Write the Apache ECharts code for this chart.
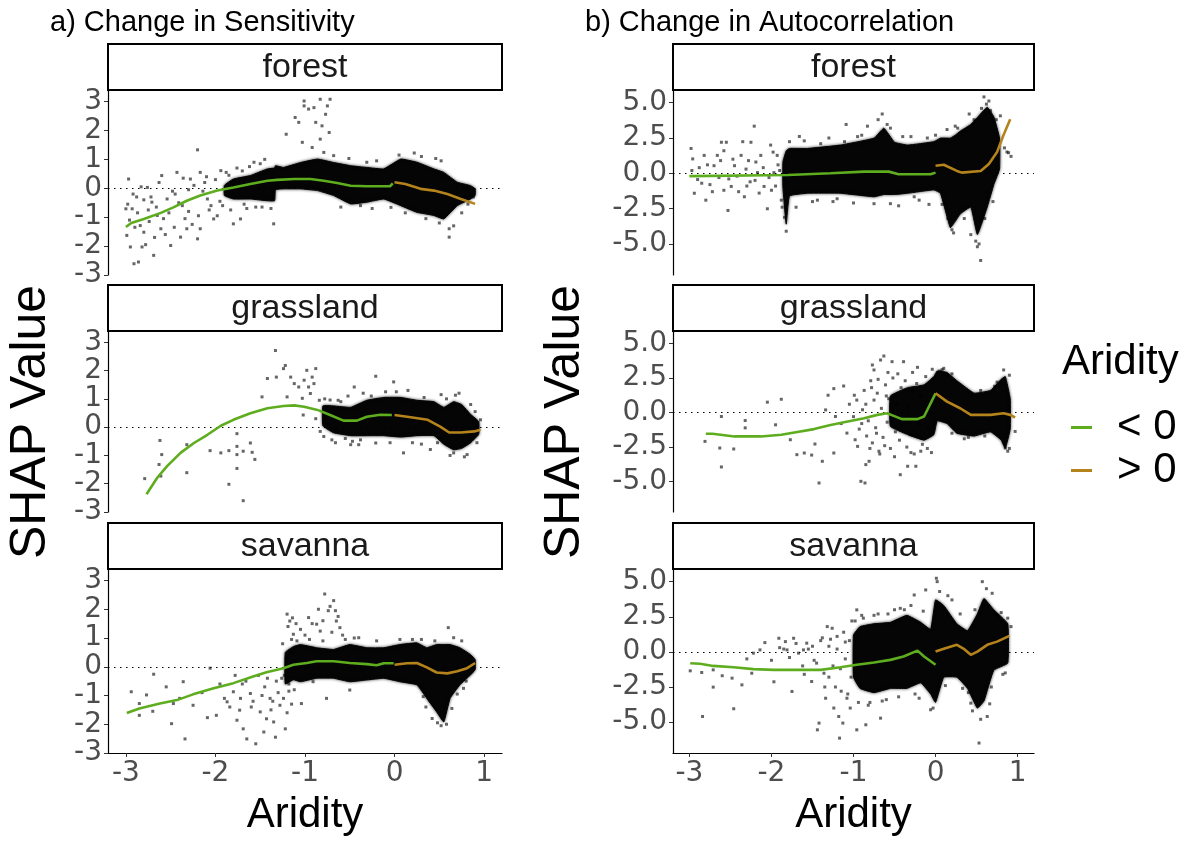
<!DOCTYPE html>
<html>
<head>
<meta charset="utf-8">
<title>SHAP value vs aridity</title>
<script src="https://cdn.jsdelivr.net/npm/echarts@6/dist/echarts.min.js"></script>
<style>
  html, body { margin: 0; padding: 0; background: #ffffff; }
  #chart { width: 1195px; height: 841px; }
</style>
</head>
<body>
<div id="chart"></div>
<script>
// ---------- data ----------
const biomes = ['forest', 'grassland', 'savanna'];
const panelTitles = ['a) Change in Sensitivity', 'b) Change in Autocorrelation'];
const aridityTicks = [-3, -2, -1, 0, 1];
const sensTicks = [-3, -2, -1, 0, 1, 2, 3];
const autoTicks = [-5, -2.5, 0, 2.5, 5];
const legendLabels = ['< 0', '> 0'];

// smoothed SHAP curves, split at aridity 0
const sensForestNeg = [[-3.0,-1.34],[-2.94,-1.2],[-2.80,-1.06],[-2.61,-0.85],[-2.47,-0.66],[-2.32,-0.43],[-2.17,-0.25],[-1.98,-0.08],[-1.80,0.03],[-1.61,0.15],[-1.42,0.26],[-1.31,0.29],[-1.12,0.32],[-0.94,0.32],[-0.79,0.26],[-0.64,0.18],[-0.49,0.09],[-0.31,0.07],[-0.05,0.07],[-0.02,0.17]];
const sensForestPos = [[0.0,0.21],[0.12,0.15],[0.29,-0.02],[0.44,-0.08],[0.59,-0.20],[0.74,-0.37],[0.90,-0.54]];
const sensGrassNeg = [[-2.77,-2.37],[-2.65,-1.79],[-2.54,-1.38],[-2.39,-0.91],[-2.24,-0.56],[-2.09,-0.27],[-1.94,0.05],[-1.80,0.26],[-1.61,0.49],[-1.42,0.67],[-1.24,0.75],[-1.12,0.77],[-1.01,0.72],[-0.86,0.61],[-0.72,0.43],[-0.57,0.23],[-0.42,0.23],[-0.31,0.37],[-0.16,0.44],[-0.03,0.43]];
const sensGrassPos = [[0.0,0.43],[0.18,0.35],[0.37,0.26],[0.51,0.02],[0.61,-0.19],[0.74,-0.19],[0.89,-0.15],[0.96,-0.09]];
const sensSavNeg = [[-2.99,-1.61],[-2.85,-1.45],[-2.62,-1.28],[-2.43,-1.16],[-2.25,-0.96],[-2.02,-0.75],[-1.80,-0.57],[-1.58,-0.34],[-1.43,-0.19],[-1.24,-0.05],[-1.13,0.07],[-0.98,0.13],[-0.87,0.19],[-0.68,0.19],[-0.50,0.13],[-0.31,0.09],[-0.20,0.05],[-0.12,0.12],[-0.01,0.12]];
const sensSavPos = [[0.0,0.07],[0.14,0.12],[0.25,0.13],[0.36,-0.02],[0.47,-0.20],[0.59,-0.23],[0.70,-0.16],[0.81,-0.05],[0.90,0.13]];
const autoForestNeg = [[-3.0,-0.2],[-1.80,-0.12],[-1.28,0.0],[-0.87,0.12],[-0.57,0.12],[-0.45,-0.07],[-0.06,-0.07],[0.0,0.05]];
const autoForestPos = [[0.0,0.54],[0.10,0.61],[0.26,0.17],[0.32,0.05],[0.55,0.17],[0.65,0.66],[0.75,1.51],[0.83,2.73],[0.91,3.83]];
const autoGrassNeg = [[-2.80,-1.54],[-2.72,-1.54],[-2.45,-1.73],[-2.13,-1.73],[-1.88,-1.61],[-1.72,-1.44],[-1.48,-1.20],[-1.28,-0.91],[-1.07,-0.65],[-0.87,-0.41],[-0.71,-0.17],[-0.59,-0.05],[-0.51,-0.24],[-0.41,-0.48],[-0.22,-0.48],[-0.14,-0.29],[0.0,1.39]];
const autoGrassPos = [[0.0,1.39],[0.14,0.79],[0.30,0.31],[0.43,-0.17],[0.67,-0.17],[0.83,-0.05],[0.91,-0.17],[0.97,-0.36]];
const autoSavNeg = [[-2.99,-0.81],[-2.87,-0.85],[-2.71,-1.0],[-2.46,-1.09],[-2.22,-1.23],[-1.97,-1.28],[-1.65,-1.28],[-1.40,-1.28],[-1.16,-1.09],[-0.96,-0.92],[-0.75,-0.76],[-0.55,-0.57],[-0.39,-0.33],[-0.22,0.09],[-0.14,-0.33],[0.0,-0.92]];
const autoSavPos = [[0.0,0.02],[0.12,0.26],[0.26,0.50],[0.35,0.19],[0.43,-0.21],[0.51,0.02],[0.63,0.50],[0.75,0.73],[0.90,1.14]];

// dense core of each point cloud: [aridity, lower SHAP, upper SHAP]
const sensForestCore = [[-1.90,-0.25,0.10],[-1.80,-0.37,0.32],[-1.61,-0.37,0.44],[-1.42,-0.43,0.67],[-1.34,-0.43,0.70],[-1.33,-0.05,0.78],[-1.24,-0.02,0.72],[-1.05,-0.02,0.89],[-0.86,-0.08,1.01],[-0.68,-0.25,0.89],[-0.49,-0.54,0.78],[-0.31,-0.48,0.72],[-0.12,-0.37,0.67],[0.07,-0.60,1.01],[0.25,-0.83,0.90],[0.44,-0.94,0.67],[0.55,-1.06,0.55],[0.70,-0.60,0.21],[0.85,-0.37,0.09],[0.90,-0.25,-0.02]];
const sensGrassCore = [[-0.80,0.05,0.75],[-0.68,-0.20,0.75],[-0.49,-0.30,0.70],[-0.31,-0.30,0.95],[-0.12,-0.30,1.05],[0.07,-0.35,1.05],[0.25,-0.30,0.95],[0.44,-0.30,0.90],[0.55,-0.60,0.70],[0.66,-0.80,0.90],[0.75,-0.75,0.80],[0.85,-0.55,0.45],[0.94,-0.25,0.20]];
const sensSavCore = [[-1.22,-0.60,0.50],[-1.13,-0.45,0.70],[-1.05,-0.52,0.77],[-0.87,-0.40,0.66],[-0.68,-0.40,0.60],[-0.50,-0.52,0.77],[-0.31,-0.46,0.66],[-0.12,-0.40,0.66],[0.06,-0.52,0.77],[0.25,-0.63,0.83],[0.36,-1.10,0.66],[0.47,-1.57,0.77],[0.55,-1.92,0.77],[0.62,-1.10,0.77],[0.73,-0.63,0.66],[0.85,-0.28,0.42],[0.90,-0.10,0.25]];
const autoForestCore = [[-1.86,-1.0,0.8],[-1.82,-3.6,1.6],[-1.78,-1.6,1.76],[-1.56,-1.41,1.76],[-1.16,-1.41,2.0],[-0.75,-1.66,2.49],[-0.63,-1.5,3.2],[-0.50,-1.5,2.2],[-0.34,-1.41,2.0],[-0.02,-1.17,2.24],[0.06,-1.41,2.49],[0.18,-3.85,2.49],[0.24,-3.4,2.7],[0.30,-2.88,2.98],[0.43,-2.39,3.46],[0.51,-4.34,3.95],[0.63,-2.39,4.68],[0.71,-0.8,4.0],[0.78,0.3,2.5]];
const autoGrassCore = [[-0.55,-1.0,1.2],[-0.34,-1.6,1.8],[-0.14,-2.0,2.0],[-0.02,-1.6,2.6],[0.02,-0.6,3.0],[0.14,-0.8,2.9],[0.26,-1.5,2.3],[0.47,-1.7,1.4],[0.67,-1.4,1.6],[0.80,-2.0,2.4],[0.85,-2.6,2.6],[0.91,-1.2,1.0]];
const autoSavCore = [[-1.00,-1.8,1.2],[-0.92,-2.6,1.8],[-0.75,-2.9,2.0],[-0.55,-2.6,2.1],[-0.35,-2.6,2.6],[-0.18,-2.2,2.1],[-0.06,-3.0,1.6],[0.00,-3.6,3.7],[0.10,-1.8,3.3],[0.26,-1.8,2.0],[0.39,-2.6,1.5],[0.51,-4.0,2.7],[0.59,-3.5,3.8],[0.71,-1.3,3.0],[0.88,-0.8,2.0]];

// scattered individual SHAP values outside the dense cores
const sensForestPts = [[-2.97,0.32],[-3.0,-0.71],[-2.99,-1.63],[-2.95,-2.03],[-2.91,-2.61],[-2.86,-2.55],[-2.82,-2.03],[-2.76,0.03],[-2.69,-2.32],[-2.60,0.44],[-2.50,-1.98],[-2.43,0.55],[-2.39,-1.69],[-2.28,0.32],[-2.20,-1.75],[-2.20,1.33],[-2.17,0.55],[-2.32,-1.40],[-2.54,-0.37],[-2.65,-0.94],[-2.71,-0.48],[-2.80,-1.52],[-2.84,-1.29],[-2.17,-1.40],[-2.02,-1.06],[-1.80,-1.23],[-1.72,-1.06],[-1.35,-1.23],[-1.21,1.87],[-1.11,2.45],[-1.07,2.28],[-1.01,3.02],[-1.01,2.85],[-0.96,2.74],[-0.90,2.79],[-0.88,2.28],[-0.83,3.08],[-0.81,2.16],[-0.77,2.56],[-0.75,2.85],[-0.72,3.08],[-0.73,1.93],[-0.83,1.70],[-1.03,1.59],[-0.92,1.41],[-0.79,1.24],[-0.68,1.13],[-0.51,1.03],[-0.31,0.90],[0.22,1.22],[0.46,1.03],[0.61,-1.40],[0.61,-1.69],[-0.38,-0.60],[-0.04,-0.66],[-1.57,0.90],[-1.94,0.61],[-2.37,-0.60],[-2.09,-0.37],[-2.61,-1.40],[-2.93,-0.71],[0.81,-0.02],[-2.88,-0.30],[-2.75,-0.75],[-2.45,-0.20],[-2.30,-0.05],[-2.12,0.20],[-2.05,-0.60],[-1.95,-0.45],[-1.85,0.45],[-1.70,0.60],[-1.50,0.85],[-1.65,-0.70],[-1.48,-0.65],
  [-2.98,-0.55],[-2.96,-1.10],[-2.92,-0.20],[-2.90,-1.35],[-2.87,-0.85],[-2.83,0.05],[-2.80,-0.40],[-2.78,-1.95],[-2.74,-1.15],[-2.72,-0.30],[-2.68,-1.70],[-2.66,-0.65],[-2.63,0.20],[-2.58,-1.05],[-2.56,-1.60],[-2.52,-0.85],[-2.48,-0.10],[-2.46,-1.35],[-2.41,-0.50],[-2.36,0.35],[-2.34,-1.05],[-2.30,-0.80],[-2.26,-1.25],[-2.24,0.10],[-2.19,-0.95],[-2.14,-0.10],[-2.10,0.40],[-2.07,-0.75],[-2.00,0.30],[-1.98,-0.95],[-1.92,-0.60],[-1.88,0.55],[-1.83,-0.75],[-1.76,0.70],[-1.68,-0.55],[-1.62,0.75],[-1.55,-0.65],[-1.45,1.00],[-1.38,-0.70],[0.05,1.15],[0.12,-0.85],[0.35,-1.05],[0.50,-1.20],[0.66,-1.30],[0.75,-0.85],[0.82,-0.55],[0.88,-0.30],[-0.20,0.95],[-0.60,-0.65],[-0.25,-0.70],[0.30,1.10],[0.52,0.95]];
const sensGrassPts = [[-2.79,-1.82],[-2.62,-0.47],[-2.60,-0.97],[-2.63,-1.32],[-2.61,-1.73],[-2.32,-0.62],[-2.32,-1.61],[-2.06,-0.83],[-1.94,-0.91],[-1.85,-2.02],[-1.85,-0.83],[-1.76,-0.23],[-1.76,-0.68],[-1.76,-0.97],[-1.76,-1.46],[-1.69,-2.60],[-1.69,-0.85],[-1.61,-0.56],[-1.59,-0.89],[-1.56,-1.14],[-1.48,1.07],[-1.42,1.72],[-1.33,2.71],[-1.32,1.77],[-1.24,2.07],[-1.22,2.18],[-1.20,1.07],[-1.16,1.77],[-1.12,1.54],[-1.07,1.42],[-1.01,1.66],[-0.98,2.01],[-0.96,1.42],[-0.92,1.77],[-0.88,2.07],[-0.90,1.54],[-0.94,1.19],[-1.03,1.02],[-1.02,0.43],[-0.45,1.42],[-0.21,1.80],[-0.01,1.60],[-0.49,-0.62],[-0.40,-0.62],[-0.21,-0.56],[0.10,-0.91],[0.40,-0.79],[0.66,-0.91],[0.81,-0.97],[0.68,1.13],[-0.79,-0.33],[-0.72,0.96],[0.96,0.26],[-0.84,0.95],[-0.76,0.70],[-0.70,-0.45],[-0.60,0.90],[-0.55,-0.40],[-0.35,1.20],[-0.10,1.25],[0.15,1.30],[0.30,-0.60],[0.52,1.15],[0.85,0.80],
  [-0.88,0.30],[-0.83,-0.15],[-0.78,1.00],[-0.74,0.10],[-0.66,-0.55],[-0.63,0.95],[-0.52,1.10],[-0.47,-0.50],[-0.38,-0.45],[-0.26,1.10],[-0.05,-0.55],[0.02,1.25],[0.20,-0.55],[0.33,1.05],[0.48,-0.55],[0.58,1.00],[0.62,-1.00],[0.72,1.20],[0.78,-1.05],[0.90,0.55],[0.92,-0.55]];
const sensSavPts = [[-2.94,-0.87],[-2.85,-1.28],[-2.85,-1.69],[-2.77,-0.98],[-2.69,-0.26],[-2.49,-1.98],[-2.47,-1.28],[-2.36,-0.52],[-2.34,-2.51],[-2.25,-1.34],[-2.09,-1.77],[-2.06,-0.05],[-1.99,-1.69],[-1.87,-1.22],[-1.80,-0.87],[-1.76,-1.86],[-1.73,-1.51],[-1.69,-2.16],[-1.65,-2.51],[-1.61,-0.93],[-1.55,-2.68],[-1.50,-1.57],[-1.46,-2.27],[-1.43,-1.81],[-1.39,-1.10],[-1.35,-1.92],[-1.33,-2.45],[-1.28,-1.34],[-1.22,-2.16],[-1.20,1.83],[-1.17,1.59],[-1.13,1.13],[-1.04,-1.28],[-0.96,1.71],[-0.87,1.48],[-0.78,2.53],[-0.74,1.95],[-0.68,2.30],[-0.66,1.95],[-0.65,1.59],[-0.61,1.36],[-0.83,1.24],[-0.40,1.01],[-0.50,-0.81],[-0.76,-1.10],[0.06,0.95],[0.60,1.36],[0.66,1.01],[0.77,-0.75],[0.32,-1.04],[-0.91,-0.52],[-1.90,-1.10],[-1.70,-0.60],[-1.58,-1.20],[-1.45,-0.70],[-1.38,-1.50],[-1.30,-0.90],[-1.26,-0.40],[-1.25,0.80],[-1.18,-0.85],[-1.15,0.95],[-1.05,1.30],[-0.95,0.95],[-0.80,0.90],[-0.55,0.95],[-0.20,0.90],[0.20,0.95],[0.45,0.90],[0.52,-2.05],
  [-1.24,-1.10],[-1.23,-0.30],[-1.21,0.30],[-1.20,-1.60],[-1.19,1.40],[-1.18,-0.60],[-1.16,0.50],[-1.15,-1.30],[-1.14,1.70],[-1.12,-0.80],[-1.10,1.50],[-1.09,0.90],[-1.00,1.10],[-0.92,1.50],[-0.85,2.00],[-0.80,1.60],[-0.72,2.10],[-0.70,1.20],[-0.63,1.75],[-0.58,1.10],[-0.45,1.00],[-1.32,-0.50],[-1.36,-1.20],[-1.42,-0.40],[-1.48,-1.00],[-1.52,-0.30],[-1.60,-1.40],[-1.66,-0.50],[-1.72,-1.10],[-1.78,-0.30],[-1.84,-1.40],[-1.95,-0.60],[-2.15,-0.90],[-2.40,-1.10],[-2.55,-0.70],[-2.70,-1.55],[0.35,-1.40],[0.42,-1.80],[0.48,-1.95],[0.58,-2.00],[0.64,-1.45],[0.70,-0.95],[0.75,0.90],[0.30,0.95],[0.80,-0.50]];
const autoForestPts = [[-2.98,1.76],[-2.96,1.02],[-2.94,-1.41],[-2.90,-0.44],[-2.82,1.27],[-2.80,-1.90],[-2.70,0.54],[-2.66,1.27],[-2.61,2.20],[-2.55,2.20],[-2.53,-2.63],[-2.49,-0.93],[-2.45,0.54],[-2.37,1.27],[-2.35,2.24],[-2.33,-1.66],[-2.25,2.20],[-2.21,3.34],[-2.17,0.05],[-2.13,1.27],[-2.09,-0.93],[-2.05,-2.51],[-2.01,2.00],[-1.97,0.05],[-1.93,1.27],[-1.88,-1.90],[-1.84,-3.12],[-1.82,-4.10],[-1.78,2.24],[-1.66,2.61],[-1.44,-1.90],[-1.09,3.46],[-1.11,2.24],[-0.83,3.34],[-0.65,4.20],[-0.59,3.46],[-0.75,-2.15],[-0.55,-2.15],[-0.26,-1.66],[-0.08,-2.20],[0.14,3.10],[0.24,3.34],[0.41,4.20],[0.59,5.41],[0.65,5.12],[0.67,4.44],[0.79,4.07],[0.87,1.51],[0.89,1.46],[0.55,-6.17],[0.51,-5.20],[0.22,-4.22],[0.43,-4.34],[-2.88,0.40],[-2.75,-0.80],[-2.58,-1.20],[-2.42,-0.20],[-2.28,0.90],[-2.20,-0.50],[-2.00,-1.20],[-1.92,0.60],[-2.62,0.90],[-2.30,-0.90],[-1.40,2.10],[-1.20,-1.80],[-0.95,2.60],[-0.40,2.60],[-0.10,2.50],
  [-1.70,-2.40],[-1.60,2.30],[-1.50,-2.00],[-1.30,2.50],[-1.25,-2.00],[-1.00,-2.10],[-0.90,2.70],[-0.70,3.80],[-0.62,2.90],[-0.55,3.20],[-0.45,-2.30],[-0.30,2.60],[-0.20,-1.90],[0.00,2.70],[0.08,-2.20],[0.15,-3.20],[0.20,-4.00],[0.27,3.20],[0.35,-3.20],[0.47,3.80],[0.49,-4.80],[0.53,-5.00],[0.56,4.60],[0.60,-3.20],[0.62,4.90],[0.70,-2.00],[0.74,3.80],[0.84,1.80],[0.92,1.20],[-2.97,0.20],[-2.85,-0.70],[-2.78,0.60],[-2.72,-1.30],[-2.64,-0.30],[-2.58,1.60],[-2.52,-0.40],[-2.47,1.00],[-2.40,-1.30],[-2.31,0.30],[-2.26,-0.60],[-2.19,0.80],[-2.15,-1.40],[-2.10,0.40],[-2.03,-0.30],[-1.98,1.50],[-1.95,-0.90],[-1.90,0.20],[-1.87,-2.40]];
const autoGrassPts = [[-2.81,-2.09],[-2.63,-2.57],[-2.61,-0.29],[-2.61,-3.94],[-2.46,-2.64],[-2.32,-0.58],[-2.32,-1.11],[-2.05,0.75],[-1.95,-0.89],[-1.88,0.96],[-1.77,-1.97],[-1.69,-3.05],[-1.60,-2.93],[-1.51,-3.08],[-1.47,-2.28],[-1.42,-5.10],[-1.38,-3.53],[-1.34,0.19],[-1.31,1.25],[-1.24,-2.93],[-1.24,1.73],[-1.22,-0.29],[-1.12,1.92],[-1.08,-1.49],[-0.99,1.25],[-0.98,-1.97],[-0.95,-2.45],[-0.91,-4.98],[-0.86,-5.10],[-0.85,-3.77],[-0.81,-3.53],[-0.77,3.44],[-0.75,3.08],[-0.67,3.80],[-0.63,4.09],[-0.53,3.68],[-0.43,-4.50],[-0.39,3.68],[-0.34,-3.89],[-0.24,-3.89],[-0.22,3.27],[-0.04,3.13],[0.10,3.20],[0.83,3.08],[0.97,-1.37],[0.85,-2.57],[-0.90,-0.80],[-0.85,0.60],[-0.80,-2.60],[-0.78,1.80],[-0.72,-1.50],[-0.70,2.40],[-0.68,-3.00],[-0.62,-2.40],[-0.60,1.20],[-0.58,2.90],[-0.50,-3.20],[-0.46,2.80],[-0.30,-2.90],[-0.28,2.90],[-0.18,-2.80],[-0.10,-2.60],[0.05,3.00],[0.20,-1.50],[0.40,-1.80],[0.60,-1.70],[0.72,1.90],[0.90,-2.60],
  [-1.15,-0.80],[-1.05,0.60],[-1.00,-0.30],[-0.96,0.90],[-0.93,-1.20],[-0.89,0.20],[-0.87,1.60],[-0.84,-1.70],[-0.82,-0.60],[-0.79,2.30],[-0.77,-2.20],[-0.75,0.90],[-0.73,-1.10],[-0.71,1.40],[-0.69,-2.80],[-0.66,0.30],[-0.64,-1.80],[-0.61,2.00],[-0.59,-0.70],[-0.57,1.00],[-0.55,-2.60],[-0.52,2.50],[-0.49,-1.40],[-0.47,0.60],[-0.44,-2.00],[-0.42,1.80],[-0.40,-0.90],[-0.37,2.30],[-0.35,-2.50],[-0.33,0.40],[-0.30,-1.60],[-0.28,1.50],[-0.26,-3.00],[-0.23,2.10],[-0.20,-0.80],[-0.18,1.20],[-0.16,-2.30],[-0.12,2.60],[-0.09,-1.20],[-0.07,0.80],[-0.05,-2.90],[-0.03,2.40],[0.08,3.10],[0.20,2.80],[0.35,-1.90],[0.55,1.60],[0.75,2.20],[0.88,-2.80],[0.90,2.70]];
const autoSavPts = [[-2.99,-1.35],[-2.85,-1.47],[-2.84,-4.6],[-2.71,-2.51],[-2.71,-1.28],[-2.48,-1.87],[-2.46,-4.05],[-2.36,-2.35],[-2.24,-1.52],[-2.22,-0.09],[-2.14,0.14],[-2.08,0.66],[-1.97,-2.13],[-1.91,0.97],[-1.83,0.73],[-1.81,0.14],[-1.75,-2.82],[-1.73,0.97],[-1.67,-0.09],[-1.61,0.14],[-1.57,0.62],[-1.51,-2.11],[-1.44,-5.55],[-1.42,-5.07],[-1.36,-1.52],[-1.32,1.80],[-1.26,1.68],[-1.24,-4.00],[-1.18,-4.60],[-1.17,-6.14],[-1.13,-5.07],[-1.04,-4.00],[-0.96,-5.55],[-0.85,-5.19],[-0.67,-4.72],[-0.43,3.10],[-0.26,4.05],[-0.12,4.41],[0.01,5.24],[0.02,5.00],[-0.06,-4.12],[0.53,-6.49],[0.57,5.00],[0.69,4.17],[0.43,-3.65],[0.92,1.80],[0.63,-4.60],[-0.96,2.99],[-1.90,0.30],[-1.78,-0.40],[-1.70,0.60],[-1.62,-1.00],[-1.55,0.20],[-1.48,-0.60],[-1.40,0.80],[-1.35,-2.50],[-1.30,0.40],[-1.25,-1.00],[-1.20,1.10],[-1.15,-2.80],[-1.10,0.70],[-1.08,-3.30],[-1.02,2.20],[-0.90,2.60],[-0.80,-3.60],[-0.70,2.70],[-0.60,-3.40],[-0.50,3.00],[-0.30,3.30],[-0.20,-3.30],[0.15,4.00],[0.30,2.70],[0.40,-2.90],[0.66,-3.70],[0.80,2.80],[0.85,-1.50],
  [-1.30,-1.80],[-1.28,0.90],[-1.22,-2.50],[-1.20,0.20],[-1.16,-1.20],[-1.12,1.40],[-1.10,-0.50],[-1.07,-3.00],[-1.05,0.80],[-1.03,-1.80],[-0.98,2.20],[-0.94,-3.60],[-0.88,2.40],[-0.82,-3.80],[-0.75,2.60],[-0.65,-3.50],[-0.58,2.70],[-0.45,-3.20],[-0.38,3.00],[-0.25,-3.00],[-0.15,2.90],[-0.03,-4.00],[0.05,4.30],[0.12,-2.40],[0.20,3.70],[0.33,-2.60],[0.45,-4.20],[0.48,3.00],[0.55,-4.80],[0.62,4.50],[0.68,-2.50],[0.75,2.60],[0.82,-1.60],[0.88,2.40],[-1.50,0.40],[-1.45,-0.80],[-1.38,1.00],[-1.34,-3.30],[-1.85,0.20],[-2.00,-0.60],[-2.30,-0.50],[-2.60,-1.70],[-1.60,-1.60]];

// ---------- layout ----------
const colBox = [{ left: 108, width: 394 }, { left: 673, width: 361 }];
const rowBox = [{ top: 90, height: 185 }, { top: 331, height: 181 }, { top: 569, height: 184 }];
const stripH = 46;
const GREEN = '#5EAD1F';
const BROWN = '#B5831C';
const TICK_FONT = 'DejaVu Sans';
const TEXT_FONT = 'Liberation Sans';

const panels = [
  { col: 0, row: 0, neg: sensForestNeg, pos: sensForestPos, core: sensForestCore, pts: sensForestPts },
  { col: 0, row: 1, neg: sensGrassNeg,  pos: sensGrassPos,  core: sensGrassCore,  pts: sensGrassPts },
  { col: 0, row: 2, neg: sensSavNeg,    pos: sensSavPos,    core: sensSavCore,    pts: sensSavPts },
  { col: 1, row: 0, neg: autoForestNeg, pos: autoForestPos, core: autoForestCore, pts: autoForestPts },
  { col: 1, row: 1, neg: autoGrassNeg,  pos: autoGrassPos,  core: autoGrassCore,  pts: autoGrassPts },
  { col: 1, row: 2, neg: autoSavNeg,    pos: autoSavPos,    core: autoSavCore,    pts: autoSavPts }
];

const grids = [], xAxes = [], yAxes = [], series = [], graphics = [];

panels.forEach((p, i) => {
  const c = colBox[p.col], r = rowBox[p.row];
  grids.push({ left: c.left, top: r.top, width: c.width, height: r.height });

  const bottomRow = p.row === 2;
  xAxes.push({
    type: 'value', gridIndex: i, min: -3.2, max: 1.2, show: bottomRow,
    splitLine: { show: false },
    axisLine: { show: true, onZero: false, lineStyle: { color: '#000', width: 1.2 } },
    axisTick: { show: true, length: 4, customValues: aridityTicks, lineStyle: { color: '#333', width: 1 } },
    axisLabel: { customValues: aridityTicks, fontFamily: TICK_FONT, fontSize: 28, color: '#4D4D4D', margin: 7 }
  });

  const ticks = p.col === 0 ? sensTicks : autoTicks;
  yAxes.push({
    type: 'value', gridIndex: i,
    min: p.col === 0 ? -3 : -7.2, max: p.col === 0 ? 3.4 : 5.9,
    splitLine: { show: false },
    axisLine: { show: true, onZero: false, lineStyle: { color: '#000', width: 1.2 } },
    axisTick: { show: true, length: 4, customValues: ticks, lineStyle: { color: '#333', width: 1 } },
    axisLabel: {
      customValues: ticks, fontFamily: TICK_FONT, fontSize: 28, color: '#4D4D4D', margin: 6,
      formatter: v => (p.col === 0 ? String(v) : Number(v).toFixed(1))
    }
  });

  // dense cloud core as a filled band
  const core = p.core;
  series.push({
    type: 'custom', xAxisIndex: i, yAxisIndex: i, z: 2, silent: true,
    data: [[0, 0]],
    renderItem: (params, api) => {
      const upper = core.map(d => api.coord([d[0], d[2]]));
      const lower = core.slice().reverse().map(d => api.coord([d[0], d[1]]));
      return {
        type: 'polygon',
        shape: { points: upper.concat(lower), smooth: 0.1 },
        style: { fill: '#050505', stroke: '#050505', lineWidth: 1, shadowBlur: 3, shadowColor: 'rgba(0,0,0,0.7)' }
      };
    }
  });

  // individual points, carrying the dotted zero reference line
  series.push({
    type: 'scatter', xAxisIndex: i, yAxisIndex: i, z: 3, silent: true,
    symbol: 'rect', symbolSize: 3,
    itemStyle: { color: 'rgba(0,0,0,0.75)' },
    data: p.pts,
    markLine: {
      silent: true, symbol: 'none', label: { show: false },
      lineStyle: { type: [1.5, 4.5], color: '#000', width: 1.2 },
      data: [{ yAxis: 0 }]
    }
  });

  series.push({
    name: legendLabels[0], type: 'line', xAxisIndex: i, yAxisIndex: i, z: 5,
    showSymbol: false, silent: true, data: p.neg,
    itemStyle: { color: GREEN }, lineStyle: { color: GREEN, width: 2.6 }
  });
  series.push({
    name: legendLabels[1], type: 'line', xAxisIndex: i, yAxisIndex: i, z: 5,
    showSymbol: false, silent: true, data: p.pos,
    itemStyle: { color: BROWN }, lineStyle: { color: BROWN, width: 2.6 }
  });

  // facet strip above each panel
  graphics.push({
    type: 'rect', silent: true,
    shape: { x: c.left, y: r.top - stripH, width: c.width, height: stripH },
    style: { fill: '#fff', stroke: '#000', lineWidth: 2 }
  });
  graphics.push({
    type: 'text', silent: true,
    x: c.left + c.width / 2, y: r.top - stripH / 2 + 1,
    style: { text: biomes[p.row], font: '34px "' + TEXT_FONT + '"', fill: '#1A1A1A',
             align: 'center', verticalAlign: 'middle', textAlign: 'center', textVerticalAlign: 'middle' }
  });
});

// column titles, axis titles and the legend title
colBox.forEach((c, k) => {
  graphics.push({
    type: 'text', silent: true,
    x: k === 0 ? 50 : 585, y: 23,
    style: { text: panelTitles[k], font: '29px "' + TEXT_FONT + '"', fill: '#000',
             align: 'left', verticalAlign: 'middle', textAlign: 'left', textVerticalAlign: 'middle' }
  });
  graphics.push({
    type: 'text', silent: true,
    x: c.left + c.width / 2, y: 815,
    style: { text: 'Aridity', font: '42px "' + TEXT_FONT + '"', fill: '#000',
             align: 'center', verticalAlign: 'middle', textAlign: 'center', textVerticalAlign: 'middle' }
  });
  graphics.push({
    type: 'text', silent: true, rotation: Math.PI / 2,
    x: k === 0 ? 31 : 565, y: 422,
    style: { text: 'SHAP Value', font: '50px "' + TEXT_FONT + '"', fill: '#000',
             align: 'center', verticalAlign: 'middle', textAlign: 'center', textVerticalAlign: 'middle' }
  });
});
graphics.push({
  type: 'text', silent: true, x: 1062, y: 362,
  style: { text: 'Aridity', font: '42px "' + TEXT_FONT + '"', fill: '#000',
           align: 'left', verticalAlign: 'middle', textAlign: 'left', textVerticalAlign: 'middle' }
});

const chart = echarts.init(document.getElementById('chart'), null, { renderer: 'canvas' });
chart.setOption({
  animation: false,
  backgroundColor: '#ffffff',
  grid: grids,
  xAxis: xAxes,
  yAxis: yAxes,
  legend: {
    data: legendLabels, orient: 'vertical', left: 1066, top: 401,
    icon: 'rect', itemWidth: 21, itemHeight: 3, itemGap: 0, selectedMode: false,
    textStyle: { fontFamily: TEXT_FONT, fontSize: 42, color: '#000', lineHeight: 43, padding: [0, 0, 0, 20] }
  },
  graphic: graphics,
  series: series
});
</script>
</body>
</html>
